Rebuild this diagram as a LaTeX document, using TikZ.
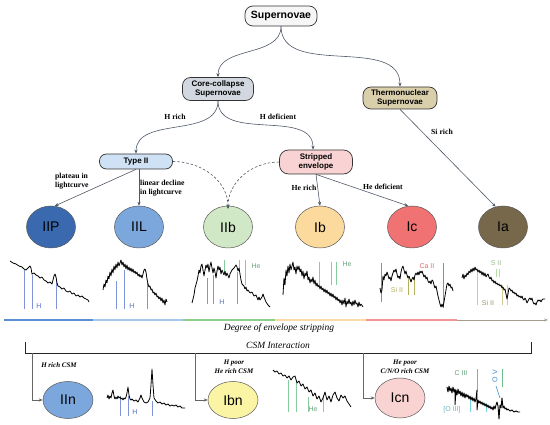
\documentclass[tikz,border=0pt]{standalone}
\usepackage{fontspec}
\setmainfont{Liberation Serif}
\setsansfont{Liberation Sans}
\usetikzlibrary{arrows.meta,shapes.geometric}
\definecolor{edgec}{HTML}{4E5866}
\definecolor{snfill}{HTML}{F6F6F6}
\definecolor{ccfill}{HTML}{D3D8E0}
\definecolor{tnfill}{HTML}{D9CFAB}
\definecolor{t2fill}{HTML}{CFE2F5}
\definecolor{sefill}{HTML}{F9D3D3}
\definecolor{ciip}{HTML}{3A69B0}
\definecolor{ciil}{HTML}{7BA7DC}
\definecolor{ciib}{HTML}{D0E8C6}
\definecolor{cib}{HTML}{FCD99C}
\definecolor{cic}{HTML}{F07272}
\definecolor{cia}{HTML}{77684B}
\definecolor{ciin}{HTML}{7BA7DC}
\definecolor{cibn}{HTML}{FBF4A4}
\definecolor{cicn}{HTML}{F9D2D2}
\definecolor{hline}{HTML}{8094DA}
\definecolor{htext}{HTML}{4F6FC8}
\definecolor{heline}{HTML}{86CC9E}
\definecolor{caline}{HTML}{E46A6A}
\definecolor{siline}{HTML}{B4B05A}
\definecolor{sialine}{HTML}{CFCB92}
\definecolor{s2line}{HTML}{B4DCA4}
\definecolor{c3line}{HTML}{6CC08E}
\definecolor{o3line}{HTML}{78D2E2}
\definecolor{o5line}{HTML}{3A8AD0}
\definecolor{g1}{HTML}{5B8FD4}
\definecolor{g2}{HTML}{A6C8EC}
\definecolor{g3}{HTML}{8ED08A}
\definecolor{g4}{HTML}{FBD9A8}
\definecolor{g5}{HTML}{F29595}
\definecolor{g6}{HTML}{A59E8C}
\begin{document}
\begin{tikzpicture}[x=1pt,y=-1pt,
  box/.style={draw=black!80, line width=0.7pt, rounded corners=8pt, align=center,
    font=\sffamily\bfseries\fontsize{8}{9.5}\selectfont, inner sep=1pt},
  sne/.style={ellipse, draw=black!65, line width=0.5pt, minimum width=49pt,
    minimum height=42pt, inner sep=0pt, font=\sffamily\fontsize{14}{14}\selectfont},
  snb/.style={sne, minimum width=50pt, minimum height=37pt},
  conn/.style={draw=edgec, line width=0.6pt, -{Stealth[length=4pt,width=3.2pt]}},
  dconn/.style={conn, dashed, dash pattern=on 2.5pt off 2pt},
  lbl/.style={font=\bfseries\fontsize{7.7}{9.2}\selectfont, align=left, inner sep=0pt},
  ilbl/.style={font=\itshape\fontsize{9.5}{11}\selectfont, inner sep=0pt},
  clbl/.style={font=\bfseries\itshape\fontsize{7}{8.6}\selectfont, align=center, inner sep=0pt},
  spec/.style={line width=0.8pt, line join=round},
  mk/.style={line width=0.9pt},
  slbl/.style={font=\sffamily\fontsize{7}{8}\selectfont, inner sep=0pt},
  grad/.style={line width=1.3pt}
]
\useasboundingbox (0,0) rectangle (550,425);

% --- tree nodes
\node[box, fill=snfill, minimum width=72pt, minimum height=20pt, font=\sffamily\bfseries\fontsize{10.5}{12}\selectfont] (sn) at (281,16) {Supernovae};
\node[box, fill=ccfill, minimum width=71pt, minimum height=23pt] (cc) at (218,89) {Core-collapse\\Supernovae};
\node[box, fill=tnfill, minimum width=74pt, minimum height=22pt] (tn) at (400,98) {Thermonuclear\\Supernovae};
\node[box, fill=t2fill, minimum width=73pt, minimum height=15pt, rounded corners=7pt] (t2) at (136,161.5) {Type II};
\node[box, fill=sefill, minimum width=73pt, minimum height=24pt, rounded corners=9pt] (se) at (316,162) {Stripped\\envelope};

% --- class ellipses
\node[sne, fill=ciip] (iip) at (51,227) {IIP};
\node[sne, fill=ciil] (iil) at (139,227) {IIL};
\node[sne, fill=ciib] (iib) at (228,227) {IIb};
\node[sne, fill=cib] (ib) at (320,227) {Ib};
\node[sne, fill=cic] (ic) at (412,227) {Ic};
\node[sne, fill=cia] (ia) at (503,227) {Ia};

% --- connectors
\draw[conn] (sn.south) to[out=-90,in=90] (cc.north);
\draw[conn] (sn.south) to[out=-90,in=90] (tn.north);
\draw[conn] (cc.south) to[out=-90,in=90] (t2.north);
\draw[conn] (cc.south) to[out=-90,in=90] ([xshift=-3pt]se.north);
\draw[conn] (tn.south) -- (ia.110);
\draw[conn] (t2.south) -- (iip.80);
\draw[conn] (iil.north |- t2.south) -- (iil.north);
\draw[dconn] (t2.east) to[out=0,in=90] ([yshift=-3pt]iib.north);
\draw[dconn] (se.west) to[out=180,in=90] ([yshift=-3pt]iib.north);
\draw[conn] (se.south) -- (ib.north);
\draw[conn] (se.south) -- (ic.100);

% --- edge labels
\node[lbl] (l1) at (175,117) {H rich};
\node[lbl] (l2) at (278,117) {H deficient};
\node[lbl] (l3) at (442,132) {Si rich};
\node[lbl, anchor=west] (l4) at (55,181) {plateau in\\lightcurve};
\node[lbl, anchor=west] (l5) at (140,188.5) {linear decline\\in lightcurve};
\node[lbl] (l6) at (304,188) {He rich};
\node[lbl] (l7) at (383,187) {He deficient};

% --- spectra: IIP
\draw[mk, hline] (24,270) -- (24,309) (32,275) -- (32,309) (56,278) -- (56,309);
\node[slbl, text=htext] (hiip) at (39,306) {H};
\draw[spec] plot[sharp plot] coordinates {(10,261)(13,263)(16,264)(19,266)(22,267)(24,269)(26,270)(28,268)(30,266)(31,268)(32,274)(34,273)(36,275)(38,276)(40,278)(42,277)(44,280)(46,281)(48,283)(50,282)(52,284)(53,280)(54,276)(55,274)(56,277)(57,283)(58,286)(60,287)(62,289)(64,288)(66,291)(68,292)(70,291)(72,294)(74,293)(76,296)(78,295)(80,297)(82,296)(84,298)(86,299)(88,300)(89,302)};

% IIL
\draw[mk, hline] (116,281) -- (116,309) (124,270) -- (124,309) (147,283) -- (147,309);
\node[slbl, text=htext] (hiil) at (132,306) {H};
\draw[spec] plot[sharp plot] coordinates {(103,290)(104,284)(105,287)(106,280)(107,283)(108,276)(109,279)(110,272)(111,276)(112,269)(113,273)(114,266)(115,270)(116,264)(117,268)(118,262)(119,266)(120,263)(121,260)(122,265)(123,262)(124,267)(125,264)(126,269)(127,265)(128,270)(129,267)(130,271)(131,268)(132,272)(133,269)(134,273)(135,271)(136,274)(137,272)(138,276)(139,274)(140,277)(141,275)(142,278)(143,274)(144,270)(145,269)(146,272)(147,279)(148,284)(149,287)(150,286)(151,290)(152,289)(153,293)(154,292)(155,295)(156,293)(157,297)(158,296)(159,299)(160,297)(161,301)(162,298)(163,303)(164,300)(165,305)(166,299)(167,302)};

% IIb
\draw[mk, hline] (207,278) -- (207,304) (213,275) -- (213,304) (237,272) -- (237,304);
\draw[mk, heline] (224,260) -- (224,273) (239,260) -- (239,270) (245,260) -- (245,285);
\node[slbl, text=htext] (hiib) at (222,302) {H};
\node[slbl, text=heline!80!black] (heiib) at (256,266) {He};
\draw[spec] plot[sharp plot] coordinates {(192,303)(194,295)(195,288)(197,281)(198,276)(199,270)(200,273)(201,266)(202,264)(203,270)(204,276)(205,270)(206,265)(207,268)(208,264)(209,272)(210,266)(211,262)(212,268)(213,273)(214,268)(215,272)(216,278)(217,271)(218,266)(219,270)(220,267)(221,274)(222,270)(224,275)(225,271)(226,276)(227,273)(229,278)(230,274)(232,270)(234,268)(236,265)(237,267)(238,271)(239,268)(240,274)(241,280)(242,284)(244,286)(245,289)(246,287)(247,291)(248,290)(250,293)(252,292)(254,296)(256,295)(258,300)(259,297)(260,300)(262,297)(263,294)(264,297)(266,302)(268,305)(270,307)};

% Ib
\draw[mk, heline] (319,262) -- (319,285) (331,262) -- (331,285) (336,262) -- (336,285);
\node[slbl, text=heline!80!black] (heib) at (347,264) {He};
\draw[spec] plot[sharp plot] coordinates {(283,295)(284,278)(285,285)(286,270)(287,276)(288,266)(289,273)(290,264)(291,270)(292,266)(293,262)(294,270)(295,267)(296,274)(297,266)(298,270)(299,266)(300,272)(301,269)(302,276)(303,271)(304,279)(305,273)(306,276)(307,271)(308,280)(309,277)(310,283)(311,279)(312,282)(313,277)(314,284)(315,280)(316,286)(317,283)(318,287)(319,285)(320,289)(321,286)(322,290)(323,288)(324,292)(325,289)(326,293)(327,290)(328,294)(329,292)(330,296)(331,293)(332,297)(333,294)(334,298)(335,296)(336,300)(337,297)(338,301)(339,299)(340,303)(341,300)(342,305)(343,300)(344,304)(345,298)(346,307)(347,301)(348,304)(349,299)(350,304)(351,302)(352,306)(353,301)(354,305)(355,300)(356,304)(357,303)(358,307)(359,302)(360,306)(361,304)(363,307)};

% Ic
\draw[mk, caline] (381,263) -- (381,302) (443,263) -- (443,308);
\draw[mk, siline] (408,278) -- (408,295) (414,278) -- (414,295);
\node[slbl, text=caline] (caic) at (427,266) {Ca II};
\node[slbl, text=siline] (siic) at (397,290) {Si II};
\draw[spec] plot[sharp plot] coordinates {(380,288)(381,293)(382,290)(383,276)(384,280)(385,274)(386,276)(387,272)(388,275)(389,279)(390,277)(391,281)(392,276)(393,273)(394,270)(395,272)(396,269)(397,274)(398,278)(399,276)(400,279)(401,272)(402,268)(403,266)(404,270)(405,274)(406,271)(407,275)(408,278)(409,276)(410,279)(411,282)(412,279)(413,277)(414,280)(415,275)(416,273)(417,275)(418,272)(419,275)(420,271)(421,273)(422,271)(423,274)(424,277)(425,275)(426,279)(427,277)(428,281)(429,283)(430,281)(431,284)(432,280)(433,281)(434,285)(435,288)(436,286)(437,291)(438,296)(439,300)(440,304)(441,307)(442,304)(443,307)(444,302)(445,296)(446,290)(447,284)(448,283)(449,286)(450,284)(451,288)(452,287)(453,291)};

% Ia
\draw[mk, sialine] (477,272) -- (477,305) (502,285) -- (502,305) (507,285) -- (507,305);
\draw[mk, s2line] (496,269) -- (496,277) (499,269) -- (499,277);
\node[slbl, text=s2line!85!black] (sia) at (496,263) {S II};
\node[slbl, text=sialine!75!black] (siia) at (488,303) {Si II};
\draw[spec] plot[sharp plot] coordinates {(462,278)(463,274)(464,279)(465,275)(466,277)(467,273)(468,275)(469,271)(470,273)(471,269)(472,272)(473,268)(474,271)(475,267)(476,270)(477,269)(478,272)(479,270)(480,273)(481,271)(482,275)(483,272)(484,276)(485,273)(486,277)(487,275)(488,274)(489,277)(490,279)(491,277)(492,281)(493,280)(494,283)(495,281)(496,284)(497,283)(498,285)(499,284)(500,286)(501,285)(502,288)(503,287)(504,290)(505,289)(506,294)(507,299)(508,294)(509,288)(510,289)(511,291)(512,290)(513,293)(514,292)(515,294)(516,293)(517,296)(518,295)(519,297)(520,296)(521,298)(522,296)(523,299)(524,300)(525,298)(526,300)(527,303)(528,301)(529,299)(530,298)(531,300)(532,298)(533,302)(534,304)(535,303)(536,305)(537,302)(538,300)(539,301)(540,300)(541,302)(542,300)(543,299)(545,299)};

% --- stripping axis
\coordinate (ga) at (4,320);
\coordinate (gb) at (93,320);
\coordinate (gc) at (183,320);
\coordinate (gd) at (275,320);
\coordinate (ge) at (366,320);
\coordinate (gf) at (457,320);
\coordinate (gg) at (548,320);
\draw[grad, g1] (ga) -- (gb);
\draw[grad, g2] (gb) -- (gc);
\draw[grad, g3] (gc) -- (gd);
\draw[grad, g4] (gd) -- (ge);
\draw[grad, g5] (ge) -- (gf);
\draw[grad, g6, line width=0.9pt, -{Stealth[length=4pt,width=3pt]}] (gf) -- (gg);
\node[ilbl] (deg) at (279,328) {Degree of envelope stripping};

% --- CSM interaction bracket
\coordinate (bl) at (25,342);
\coordinate (blb) at (25,353);
\coordinate (brb) at (531,353);
\coordinate (br) at (531,342);
\draw[line width=0.8pt, black!85] (bl) -- (blb) -- (brb) -- (br);
\node[ilbl, fill=white, inner sep=0pt] (csm) at (278,345.5) {CSM Interaction};

\node[snb, fill=ciin] (iin) at (68,400) {IIn};
\node[snb, fill=cibn] (ibn) at (233,400) {Ibn};
\node[snb, fill=cicn, minimum height=40pt] (icn) at (400,398) {Icn};

\coordinate (d1) at (32,353);
\coordinate (d2) at (195,353);
\coordinate (d3) at (363,353);
\draw[conn, draw=black!60] (d1) |- (iin.west);
\draw[conn, draw=black!60] (d2) |- (ibn.west);
\draw[conn, draw=black!60] (d3) |- (icn.west);

\node[clbl] (c1) at (59,365) {H rich CSM};
\node[clbl] (c2) at (234,366.5) {H poor\\He rich CSM};
\node[clbl] (c3) at (405,366.5) {He poor\\C/N/O rich CSM};

% IIn spectrum
\draw[mk, hline] (120,396) -- (120,416) (128,396) -- (128,416) (152,401) -- (152,416);
\node[slbl, text=htext] (hiin) at (135,412) {H};
\draw[spec] plot[sharp plot] coordinates {(107,398)(108,395)(109,399)(110,396)(111,398)(112,393)(113,390)(114,396)(115,399)(116,397)(117,399)(118,396)(119,398)(120,397)(121,399)(122,398)(123,400)(124,398)(125,399)(126,397)(127,393)(128,387)(129,395)(130,399)(131,400)(132,399)(134,401)(136,400)(138,402)(140,398)(141,395)(142,398)(144,402)(146,403)(148,402)(150,398)(151,385)(152,369)(153,385)(154,398)(156,401)(158,403)(160,402)(162,404)(164,403)(166,405)(168,404)(170,406)(172,405)(174,406)(176,405)(178,407)(180,406)(182,408)(185,408)};

% Ibn spectrum
\draw[mk, heline] (288,380) -- (288,412) (296,380) -- (296,412) (308,397) -- (308,412) (323,397) -- (323,412);
\node[slbl, text=heline!80!black] (heibn) at (313,409) {He};
\draw[spec] plot[sharp plot] coordinates {(273,370)(275,372)(277,371)(279,374)(281,373)(283,376)(285,375)(287,378)(289,376)(291,380)(293,377)(295,376)(297,383)(299,381)(301,386)(303,384)(305,389)(307,387)(309,392)(311,390)(313,396)(315,393)(317,399)(319,396)(321,402)(323,398)(325,392)(327,400)(329,396)(331,402)(333,395)(335,392)(337,398)(339,401)(341,395)(343,398)(345,396)(347,401)(349,404)(351,407)};

% Icn spectrum
\draw[mk, c3line] (477,369) -- (477,392) (502,369) -- (502,387);
\draw[mk, o3line] (470,397) -- (470,412) (486,403) -- (486,412);
\draw[line width=0.6pt, o5line] (496,386) -- (500,398);
\node[slbl, text=c3line!85!black] (c3) at (461,373) {C III};
\node[slbl, text=o3line!85!black] (o3) at (452,410) {[O III]};
\node[slbl, text=o5line, rotate=90] (o5) at (495,376) {O V};
\draw[spec, line width=0.9pt] plot[sharp plot] coordinates {(447,387)(448,392)(449,386)(450,391)(451,388)(452,393)(453,387)(454,392)(455,389)(455,405)(456,390)(457,395)(458,389)(459,394)(460,391)(461,396)(462,392)(463,397)(464,393)(465,398)(466,394)(467,397)(468,395)(469,399)(470,396)(471,400)(472,397)(473,401)(474,398)(475,402)(476,399)(477,390)(477,410)(478,400)(479,403)(480,401)(481,404)(482,402)(483,405)(484,403)(485,406)(486,404)(487,407)(488,405)(489,408)(490,406)(491,409)(492,407)(493,410)(494,406)(495,409)(496,405)(497,402)(498,406)(499,419)(500,405)(501,408)(502,398)(503,408)(504,406)(505,409)(506,408)(507,410)(508,409)(510,411)(512,410)(514,412)(516,411)(518,412)(520,412)};
\end{tikzpicture}
\end{document}
